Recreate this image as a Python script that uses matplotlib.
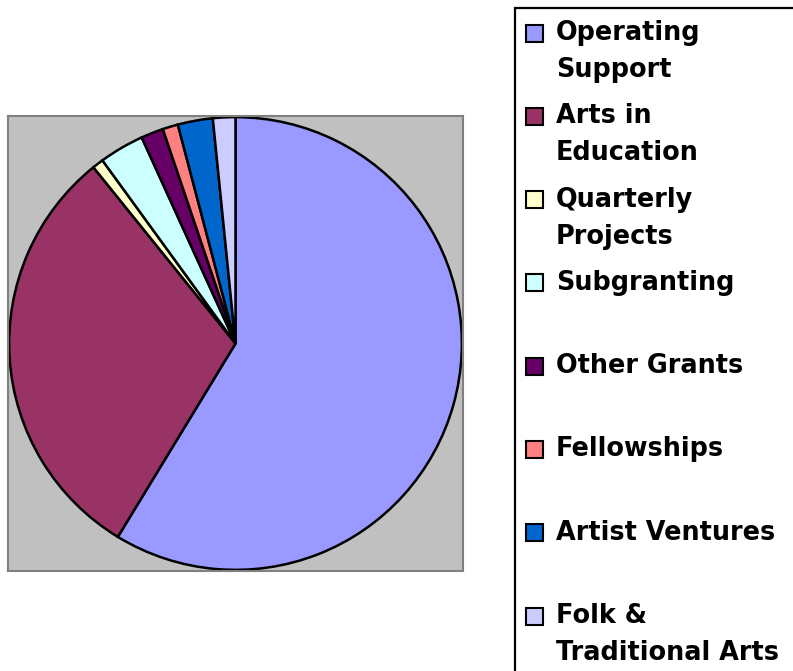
import matplotlib.pyplot as plt
from matplotlib.patches import Rectangle

# slice shares (percent)
labels = ['Operating\nSupport', 'Arts in\nEducation', 'Quarterly\nProjects', 'Subgranting',
          'Other Grants', 'Fellowships', 'Artist Ventures', 'Folk &\nTraditional Arts']
shares = [58.7, 30.5, 0.8, 3.2, 1.6, 1.1, 2.5, 1.6]
colors = ['#9999FF', '#993366', '#FFFFCC', '#CCFFFF', '#660066', '#FF8080', '#0066CC', '#CCCCFF']

W, H = 793, 671
fig = plt.figure(figsize=(W / 100, H / 100), dpi=100)
fig.patch.set_facecolor('white')

# plot area (grey square)
ax = fig.add_axes([8 / W, 1 - 571 / H, 455 / W, 455 / H])
ax.pie(shares, colors=colors, startangle=90, counterclock=False, radius=0.995,
       frame=True, wedgeprops=dict(edgecolor='black', linewidth=1.8))
ax.set_facecolor('#C0C0C0')
ax.set_xlim(-1, 1)
ax.set_ylim(-1, 1)
ax.set_aspect('auto')
ax.set_xticks([])
ax.set_yticks([])
for s in ax.spines.values():
    s.set_visible(True)
    s.set_color('#808080')
    s.set_linewidth(1.5)


# legend drawn by hand: marker level with the first line of each label
def fx(px):
    return px / W


def fy(py):
    return 1 - py / H


fig.patches.append(Rectangle((fx(515), fy(700)), 320 / W, (700 - 8) / H,
                             transform=fig.transFigure, fill=False, edgecolor='black',
                             linewidth=1.6))

step = 83.3
for i, (lab, c) in enumerate(zip(labels, colors)):
    yc = 33 + step * i
    fig.patches.append(Rectangle((fx(526), fy(yc + 8.5)), 17 / W, 17 / H,
                                 transform=fig.transFigure, facecolor=c,
                                 edgecolor='black', linewidth=1.5))
    for j, line in enumerate(lab.split('\n')):
        fig.text(fx(556), fy(yc + 37 * j), line, ha='left', va='center',
                 fontsize=18.4, fontweight='bold', family='DejaVu Sans')

fig.savefig('out.png', dpi=100)
